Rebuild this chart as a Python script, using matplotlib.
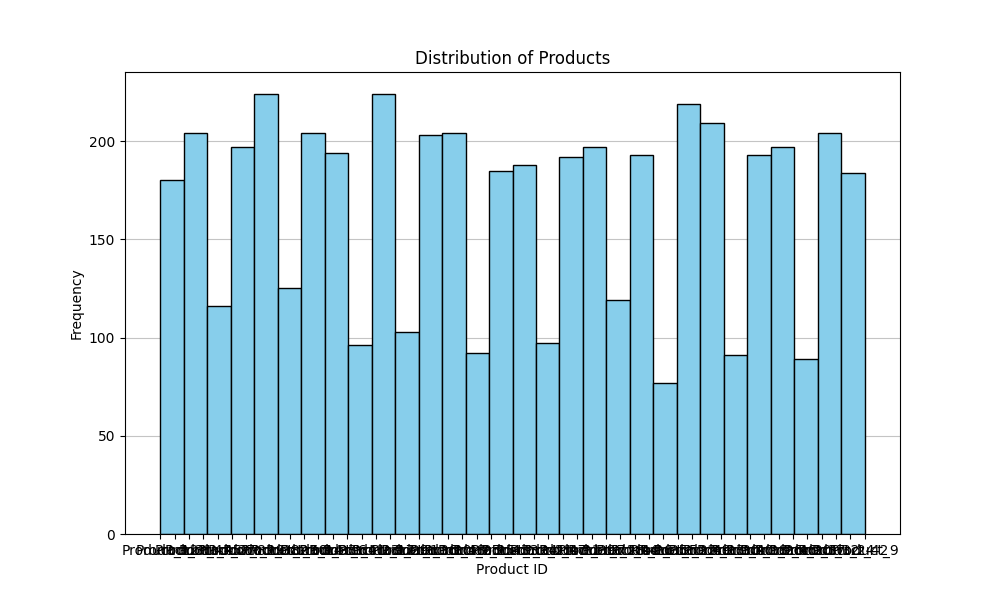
import matplotlib
matplotlib.use("Agg")
import matplotlib.pyplot as plt
import numpy as np

products = ["Product_12", "Product_31", "Product_4", "Product_45", "Product_27", "Product_8", "Product_19",
            "Product_38", "Product_2", "Product_50", "Product_14", "Product_33", "Product_6", "Product_41",
            "Product_23", "Product_17", "Product_29", "Product_1", "Product_36", "Product_10", "Product_48",
            "Product_25", "Product_15", "Product_43", "Product_3", "Product_34", "Product_21", "Product_47",
            "Product_11", "Product_39", "Product_7", "Product_28", "Product_44", "Product_16", "Product_35",
            "Product_5", "Product_22", "Product_49", "Product_13", "Product_30", "Product_40", "Product_18",
            "Product_26", "Product_46", "Product_20", "Product_37", "Product_32", "Product_24", "Product_42",
            "Product_9"]
counts = [90, 90, 102, 102, 116, 98, 99, 112, 112, 125, 102, 102, 97, 97, 96, 112, 112, 103,
          101, 102, 102, 102, 92, 92, 93, 94, 94, 97, 96, 96, 98, 99, 119, 96, 97, 77, 109, 110,
          104, 105, 91, 96, 97, 98, 99, 89, 102, 102, 92, 92]

idx = np.repeat(np.arange(len(products)), counts)

fig, ax = plt.subplots(figsize=(10, 6), dpi=100)
ax.hist(idx, bins=30, color="skyblue", edgecolor="black")
ax.set_xticks(np.arange(len(products)))
ax.set_xticklabels(products)
ax.set_title("Distribution of Products")
ax.set_xlabel("Product ID")
ax.set_ylabel("Frequency")
ax.grid(axis="y", alpha=0.75)
ax.set_axisbelow(True)
fig.savefig("out.png")
